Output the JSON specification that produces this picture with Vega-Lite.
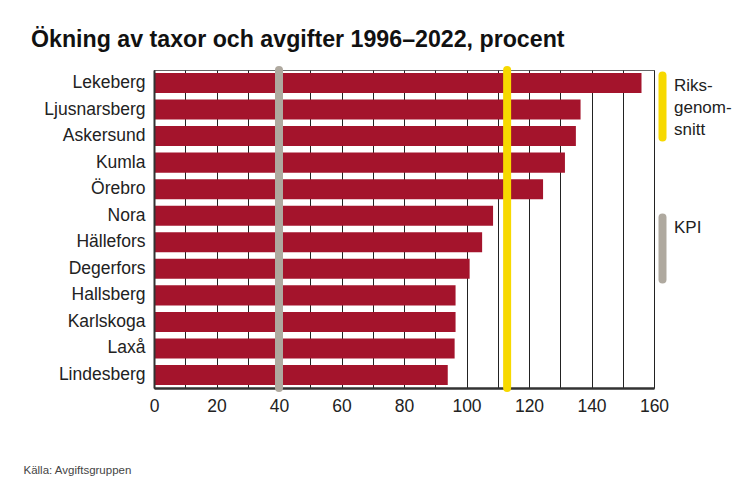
{
  "$schema": "https://vega.github.io/schema/vega-lite/v6.json",
  "width": 500,
  "height": 318,
  "autosize": "none",
  "padding": {"left": 154, "top": 70, "right": 90, "bottom": 98},
  "background": "white",
  "config": {
    "font": "Liberation Sans",
    "view": {"stroke": "#666", "strokeWidth": 1}
  },
  "title": {
    "text": "Ökning av taxor och avgifter 1996–2022, procent",
    "anchor": "start",
    "frame": "group",
    "dx": -123,
    "offset": -4,
    "baseline": "alphabetic",
    "fontSize": 23.2,
    "fontWeight": "bold",
    "color": "#111"
  },
  "datasets": {
    "kommuner": [
      {"kommun": "Lekeberg", "okning": 156},
      {"kommun": "Ljusnarsberg", "okning": 136.5},
      {"kommun": "Askersund", "okning": 135},
      {"kommun": "Kumla", "okning": 131.5},
      {"kommun": "Örebro", "okning": 124.5},
      {"kommun": "Nora", "okning": 108.5},
      {"kommun": "Hällefors", "okning": 105},
      {"kommun": "Degerfors", "okning": 101},
      {"kommun": "Hallsberg", "okning": 96.5},
      {"kommun": "Karlskoga", "okning": 96.5},
      {"kommun": "Laxå", "okning": 96.2},
      {"kommun": "Lindesberg", "okning": 94}
    ],
    "referens": [
      {"serie": "Riksgenomsnitt", "varde": 113},
      {"serie": "KPI", "varde": 40}
    ]
  },
  "layer": [
    {
      "data": {"name": "kommuner"},
      "mark": {"type": "bar", "color": "#A4142C"},
      "encoding": {
        "y": {
          "field": "kommun",
          "type": "nominal",
          "sort": null,
          "scale": {"paddingInner": 0.245, "paddingOuter": 0.11},
          "axis": {
            "title": null,
            "ticks": false,
            "domainColor": "#333",
            "domainWidth": 2,
            "labelFontSize": 17.5,
            "labelColor": "#222",
            "labelPadding": 9,
            "zindex": 1
          }
        },
        "x": {
          "field": "okning",
          "type": "quantitative",
          "scale": {"domain": [0, 160], "nice": false},
          "axis": {
            "values": [0, 10, 20, 30, 40, 50, 60, 70, 80, 90, 100, 110, 120, 130, 140, 150, 160],
            "labelExpr": "datum.value % 20 == 0 ? datum.label : ''",
            "ticks": false,
            "grid": true,
            "gridColor": "#222",
            "gridWidth": 1,
            "domainColor": "#333",
            "domainWidth": 2.5,
            "labelFontSize": 17.5,
            "labelColor": "#222",
            "labelPadding": 9,
            "labelFlush": false,
            "title": "Källa: Avgiftsgruppen",
            "titleFont": "Liberation Sans",
            "titleFontSize": 11.5,
            "titleFontWeight": "normal",
            "titleColor": "#444",
            "titleAlign": "left",
            "titleBaseline": "middle",
            "titleX": -131,
            "titleY": 82
          }
        }
      }
    },
    {
      "data": {"name": "referens"},
      "mark": {"type": "rule", "strokeWidth": 8, "strokeCap": "round"},
      "encoding": {
        "x": {
          "field": "varde",
          "type": "quantitative",
          "axis": {
            "values": [0, 10, 20, 30, 40, 50, 60, 70, 80, 90, 100, 110, 120, 130, 140, 150, 160],
            "labelExpr": "datum.value % 20 == 0 ? datum.label : ''",
            "ticks": false,
            "grid": true,
            "gridColor": "#222",
            "gridWidth": 1,
            "domainColor": "#333",
            "domainWidth": 2.5,
            "labelFontSize": 17.5,
            "labelColor": "#222",
            "labelPadding": 9,
            "labelFlush": false,
            "title": "Källa: Avgiftsgruppen",
            "titleFont": "Liberation Sans",
            "titleFontSize": 11.5,
            "titleFontWeight": "normal",
            "titleColor": "#444",
            "titleAlign": "left",
            "titleBaseline": "middle",
            "titleX": -131,
            "titleY": 82
          }
        },
        "color": {
          "field": "serie",
          "type": "nominal",
          "scale": {"domain": ["Riksgenomsnitt", "KPI"], "range": ["#F7D900", "#AFA99F"]},
          "legend": {
            "title": null,
            "orient": "none",
            "legendX": 500,
            "legendY": 28,
            "padding": 0,
            "symbolType": "M0,-7.75L0,7.75",
            "symbolSize": 64,
            "symbolStrokeWidth": 8,
            "labelOffset": 3,
            "labelFontSize": 17,
            "labelColor": "#222",
            "rowPadding": 47,
            "labelExpr": "datum.label == 'KPI' ? ['KPI', ' ', ' '] : ['Riks-', 'genom-', 'snitt']",
            "encode": {
              "symbols": {"update": {"strokeCap": {"value": "round"}}},
              "labels": {"update": {"lineHeight": {"value": 22}, "dy": {"value": -21}}}
            }
          }
        }
      }
    }
  ]
}
